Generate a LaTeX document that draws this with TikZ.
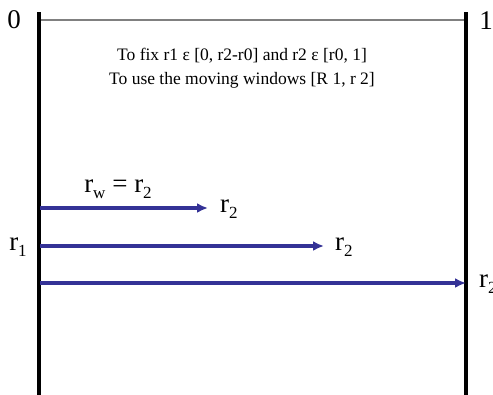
\documentclass[tikz,border=0pt]{standalone}
\usepackage{fontspec}
\setmainfont{Liberation Serif}
\usetikzlibrary{arrows.meta}
\definecolor{arrowblue}{RGB}{52,50,150}
\definecolor{topgray}{RGB}{128,128,128}
\newcommand\lbsub[1]{\raisebox{-0.45ex}{\fontsize{17}{17}\selectfont #1}}
\tikzset{
  bar/.style={line width=4pt, black},
  win/.style={line width=3.2pt, arrowblue, -{Latex[length=11pt,width=10pt]}},
  biglabel/.style={font=\fontsize{27}{30}\selectfont, inner sep=0pt},
  note/.style={font=\fontsize{17.5}{24}\selectfont, align=center, inner sep=0pt}
}
\begin{document}
\begin{tikzpicture}[x=1pt,y=-1pt]
\useasboundingbox (0,0) rectangle (493,394);
\clip (0,0) rectangle (493,394);
\coordinate (Ltop) at (38.5,12);
\coordinate (Lbot) at (38.5,396);
\coordinate (Rtop) at (466,12);
\coordinate (Rbot) at (466,396);
\coordinate (Tl) at (38.5,20);
\coordinate (Tr) at (466,20);
\draw[topgray, line width=2pt] (Tl) -- (Tr);
\draw[bar] (Ltop) -- (Lbot);
\draw[bar] (Rtop) -- (Rbot);
\node[biglabel] (zero) at (14,20) {0};
\node[biglabel] (one) at (486,21) {1};
\node[note] (txt) at (242,68) {To fix r1 \char"03B5{} [0, r2-r0] and r2 \char"03B5{} [r0, 1]\\To use the moving windows [R 1, r 2]};
% arrows
\coordinate (a1s) at (40,208);
\coordinate (a1e) at (208,208);
\coordinate (a2s) at (40,246);
\coordinate (a2e) at (324,246);
\coordinate (a3s) at (40,283);
\coordinate (a3e) at (466,283);
\draw[win] (a1s) -- (a1e);
\draw[win] (a2s) -- (a2e);
\draw[win] (a3s) -- (a3e);
\node[biglabel] (rw) at (118,189) {r\lbsub{w} = r\lbsub{2}};
\node[biglabel, anchor=west] (r2a) at (220,209) {r\lbsub{2}};
\node[biglabel, anchor=west] (r2b) at (335,247) {r\lbsub{2}};
\node[biglabel, anchor=west] (r2c) at (479,284) {r\lbsub{2}};
\node[biglabel] (r1) at (18,247) {r\lbsub{1}};
\end{tikzpicture}
\end{document}
